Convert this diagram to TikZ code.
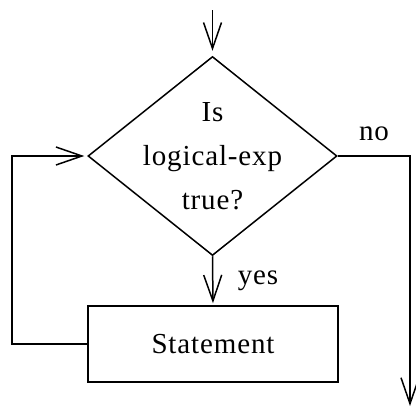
\documentclass[tikz,border=0pt]{standalone}
\usepackage{fontspec}
\setmainfont{Liberation Serif}[LetterSpace=3]
\usetikzlibrary{shapes.geometric,arrows.meta}
\begin{document}
\begin{tikzpicture}[x=1pt,y=-1pt,
  line width=1.5pt,
  flow/.style={-{Straight Barb[length=26pt,width=18pt,line width=1.5pt]}},
  lbl/.style={font=\fontsize{29}{44}\selectfont, inner sep=0pt},
  dec/.style={draw,diamond,minimum width=249pt,minimum height=199pt,inner sep=0pt},
  stbox/.style={draw,rectangle,minimum width=250pt,minimum height=76pt,inner sep=0pt}]
\useasboundingbox (0,0) rectangle (416,407);
\node[dec] (d) at (212.5,156) {};
\node[lbl,align=center] (q) at (212.5,156) {Is\\logical-exp\\true?};
\node[stbox] (s) at (213,344) {};
\node[lbl] (st) at (s.center) {Statement};
\coordinate (top) at (212.5,10);
\coordinate (lc) at (12,156);
\coordinate (lb) at (12,344);
\coordinate (rc) at (410,156);
\coordinate (out) at (410,406);
\draw[flow,shorten >=5pt] (top) -- (d.north);
\draw[flow,shorten >=2pt] (d.south) -- (s.north);
\draw[flow,shorten >=3pt] (s.west) -- (lb) -- (lc) -- (d.west);
\draw[flow] (d.east) -- (rc) -- (out);
\node[lbl] (no) at (374,134) {no};
\node[lbl] (yes) at (258,281) {yes};
\end{tikzpicture}
\end{document}
